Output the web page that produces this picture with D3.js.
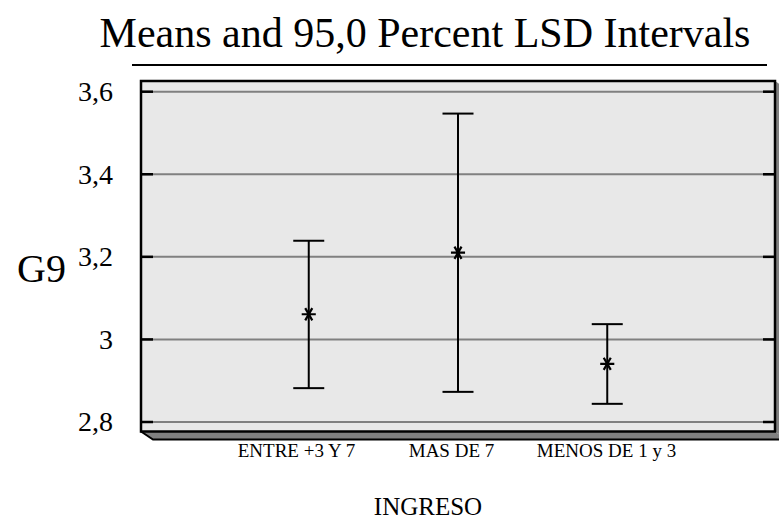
<!DOCTYPE html>
<html>
<head>
<meta charset="utf-8">
<script src="https://cdn.jsdelivr.net/npm/d3@7/dist/d3.min.js"></script>
<style>
  html, body { margin: 0; padding: 0; background: #ffffff; }
  svg { display: block; }
  text { font-family: "Liberation Serif", "Times New Roman", serif; fill: #000; }
</style>
</head>
<body>
<svg id="chart" width="779" height="519"></svg>
<script>
// Group levels of INGRESO and the LSD interval for each mean of G9
const categories = ["ENTRE +3 Y 7", "MAS DE 7", "MENOS DE 1 y 3"];
const means = [3.061, 3.210, 2.941];
const lower = [2.882, 2.873, 2.844];
const upper = [3.239, 3.547, 3.037];
const yTicks = [2.8, 3.0, 3.2, 3.4, 3.6];

const titleText = "Means and 95,0 Percent LSD Intervals";
const yTitle = "G9";
const xTitle = "INGRESO";

const svg = d3.select("#chart");

// Plot panel box
const box = { left: 141, right: 775, top: 81, bottom: 431.5 };
const depth = { dx: 12, dy: 8 };

const y = d3.scaleLinear().domain([2.8, 3.6]).range([422, 91.7]);
const x = d3.scalePoint().domain(categories).range([box.left, box.right]).padding(1.124);
const xLabel = d3.scalePoint().domain(categories).range([296, 606]);

const locale = d3.formatLocale({ decimal: ",", thousands: ".", grouping: [3], currency: ["", ""] });
const fmt = locale.format(".1~f");

// Title and its rule
svg.append("text")
  .attr("x", 425).attr("y", 47)
  .attr("text-anchor", "middle")
  .style("font-size", "42px")
  .text(titleText);
svg.append("line")
  .attr("x1", 132).attr("x2", 767).attr("y1", 65).attr("y2", 65)
  .attr("stroke", "#000").attr("stroke-width", 2);

// 3D depth: floor and right wall
svg.append("polygon")
  .attr("points", [
    [box.left, box.bottom], [box.right, box.bottom],
    [box.right + depth.dx, box.bottom + depth.dy], [box.left + depth.dx, box.bottom + depth.dy]
  ].map(p => p.join(",")).join(" "))
  .attr("fill", "#808080");
svg.append("polygon")
  .attr("points", [
    [box.right, box.top], [box.right + depth.dx, box.top + depth.dy],
    [box.right + depth.dx, box.bottom + depth.dy], [box.right, box.bottom]
  ].map(p => p.join(",")).join(" "))
  .attr("fill", "#808080");
svg.append("polyline")
  .attr("points", [
    [box.left, box.bottom], [box.left + depth.dx, box.bottom + depth.dy],
    [box.right + depth.dx, box.bottom + depth.dy]
  ].map(p => p.join(",")).join(" "))
  .attr("fill", "none").attr("stroke", "#000").attr("stroke-width", 2);

// Panel background
svg.append("rect")
  .attr("x", box.left).attr("y", box.top)
  .attr("width", box.right - box.left).attr("height", box.bottom - box.top)
  .attr("fill", "#e8e8e8");

// Grid lines
svg.append("g").selectAll("line").data(yTicks).join("line")
  .attr("x1", box.left).attr("x2", box.right)
  .attr("y1", d => y(d)).attr("y2", d => y(d))
  .attr("stroke", "#808080").attr("stroke-width", 2);

// Inner tick marks on both sides
const tickLen = 12;
svg.append("g").selectAll("line").data(yTicks).join("line")
  .attr("x1", box.left).attr("x2", box.left + tickLen)
  .attr("y1", d => y(d)).attr("y2", d => y(d))
  .attr("stroke", "#000").attr("stroke-width", 2.5);
svg.append("g").selectAll("line").data(yTicks).join("line")
  .attr("x1", box.right - tickLen).attr("x2", box.right)
  .attr("y1", d => y(d)).attr("y2", d => y(d))
  .attr("stroke", "#000").attr("stroke-width", 2.5);

// Panel frame
svg.append("rect")
  .attr("x", box.left).attr("y", box.top)
  .attr("width", box.right - box.left).attr("height", box.bottom - box.top)
  .attr("fill", "none").attr("stroke", "#000").attr("stroke-width", 2.5);

// Y axis labels
const yAxis = svg.append("g")
  .attr("transform", `translate(${box.left},0)`)
  .call(d3.axisLeft(y).tickValues(yTicks).tickFormat(fmt).tickSize(0).tickPadding(28));
yAxis.select(".domain").remove();
yAxis.selectAll("text")
  .style("font-family", "'Liberation Serif', serif")
  .style("font-size", "28px");

// X axis labels
const xAxis = svg.append("g")
  .attr("transform", `translate(0,${box.bottom + depth.dy})`)
  .call(d3.axisBottom(xLabel).tickSize(0).tickPadding(4));
xAxis.select(".domain").remove();
xAxis.selectAll("text")
  .style("font-family", "'Liberation Serif', serif")
  .style("font-size", "19px");

// Axis titles
svg.append("text")
  .attr("x", 17).attr("y", 282)
  .style("font-size", "40px")
  .text(yTitle);
svg.append("text")
  .attr("x", 428).attr("y", 515)
  .attr("text-anchor", "middle")
  .style("font-size", "25px")
  .text(xTitle);

// Interval bars
const capHalf = 15.5;
const data = categories.map((c, i) => ({ c, m: means[i], lo: lower[i], hi: upper[i] }));
const bars = svg.append("g").selectAll("g").data(data).join("g");
bars.append("line")
  .attr("x1", d => x(d.c)).attr("x2", d => x(d.c))
  .attr("y1", d => y(d.hi)).attr("y2", d => y(d.lo))
  .attr("stroke", "#000").attr("stroke-width", 2);
bars.append("line")
  .attr("x1", d => x(d.c) - capHalf).attr("x2", d => x(d.c) + capHalf)
  .attr("y1", d => y(d.hi)).attr("y2", d => y(d.hi))
  .attr("stroke", "#000").attr("stroke-width", 2);
bars.append("line")
  .attr("x1", d => x(d.c) - capHalf).attr("x2", d => x(d.c) + capHalf)
  .attr("y1", d => y(d.lo)).attr("y2", d => y(d.lo))
  .attr("stroke", "#000").attr("stroke-width", 2);

// Mean markers
const star = d3.symbol().type(d3.symbolAsterisk).size(140);
bars.append("path")
  .attr("transform", d => `translate(${x(d.c)},${y(d.m)}) rotate(30)`)
  .attr("d", star)
  .attr("fill", "none").attr("stroke", "#000").attr("stroke-width", 2.2);
</script>
</body>
</html>
